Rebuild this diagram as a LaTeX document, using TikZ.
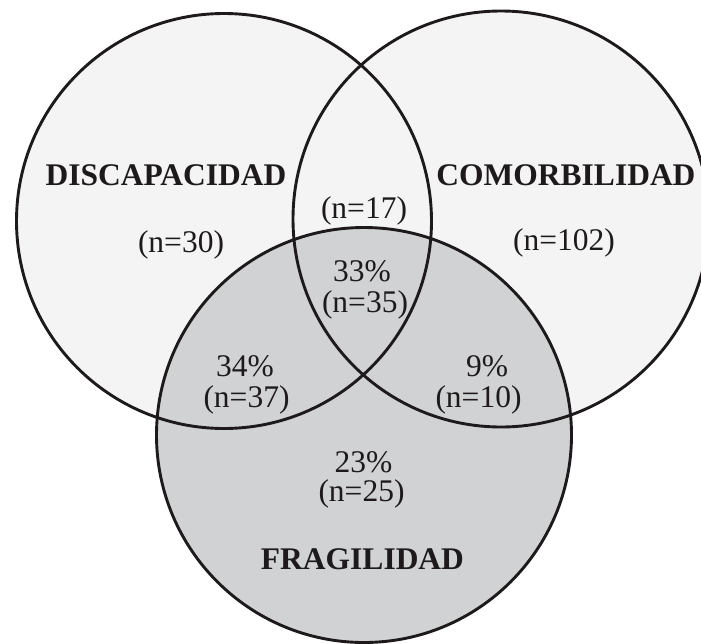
\documentclass[tikz,border=0pt]{standalone}
\usepackage{fontspec}
\setmainfont{Liberation Serif}
\definecolor{setlight}{HTML}{F4F4F4}
\definecolor{setgray}{HTML}{D1D2D4}
\definecolor{setline}{HTML}{1E1A1B}
\begin{document}
\begin{tikzpicture}[x=1pt,y=-1pt,
  ring/.style={draw=setline,line width=2.9pt},
  lbl/.style={anchor=base,inner sep=0pt,text=setline,font=\fontsize{31.5}{33}\selectfont},
  title/.style={lbl,font=\fontsize{31.5}{33}\selectfont\bfseries}]
  \useasboundingbox (0,0) rectangle (701,643);
  \clip (0,0) rectangle (701,643);
  % circle centres
  \coordinate (cL) at (224,221);
  \coordinate (cR) at (501,219);
  \coordinate (cB) at (364,435);
  % fills first, outlines on top
  \fill[setlight] (cL) circle[radius=207.5];
  \fill[setlight] (cR) circle[radius=208];
  \fill[setgray] (cB) circle[radius=207.5];
  \draw[ring] (cL) circle[radius=207.5];
  \draw[ring] (cR) circle[radius=208];
  \draw[ring] (cB) circle[radius=207.5];
  % set names
  \node[title] (tD) at (166,185) {DISCAPACIDAD};
  \node[title] (tC) at (566,185) {COMORBILIDAD};
  \node[title] (tF) at (362.5,569) {FRAGILIDAD};
  % counts
  \node[lbl] (nD) at (181,252) {(n=30)};
  \node[lbl] (nC) at (564,250) {(n=102)};
  \node[lbl] (nDC) at (364,218) {(n=17)};
  \node[lbl] (pAll) at (362,281) {33\%};
  \node[lbl] (nAll) at (365,312) {(n=35)};
  \node[lbl] (pDF) at (245,376) {34\%};
  \node[lbl] (nDF) at (246.5,407) {(n=37)};
  \node[lbl] (pCF) at (487,376.5) {9\%};
  \node[lbl] (nCF) at (478.5,407) {(n=10)};
  \node[lbl] (pF) at (363.5,472) {23\%};
  \node[lbl] (nF) at (361.5,501) {(n=25)};
\end{tikzpicture}
\end{document}
